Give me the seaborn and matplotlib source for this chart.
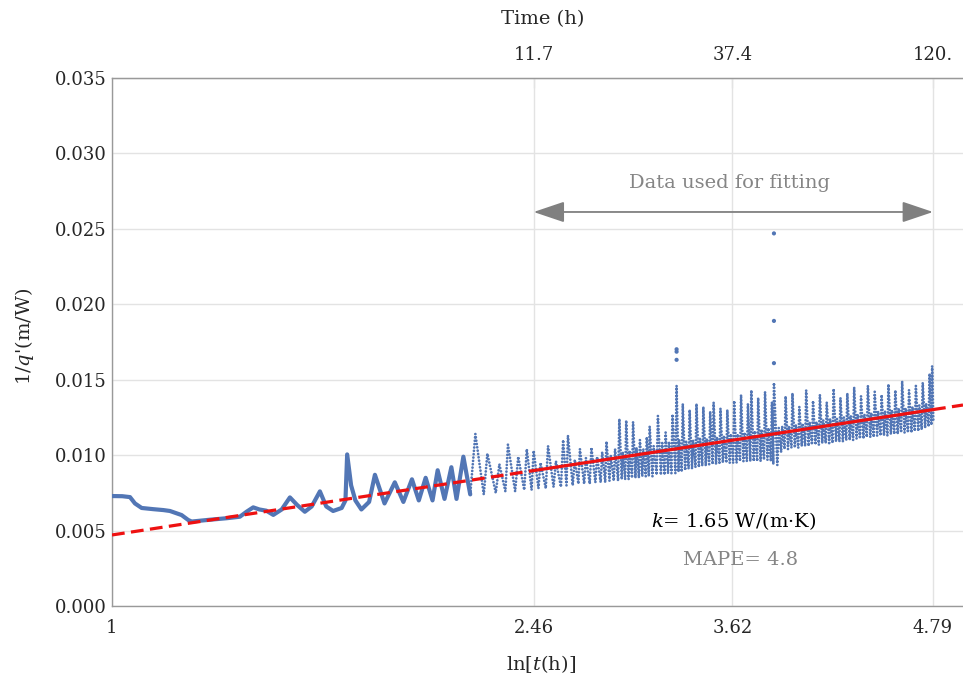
import numpy as np
import pandas as pd
import matplotlib
matplotlib.use("Agg")
import matplotlib.pyplot as plt
from matplotlib.ticker import MultipleLocator
import seaborn as sns

# ------------------------------------------------------------------ data
# early part of the record (ln t from 0 to ~2.1), dense points -> traced curve
early_x = [0.000, 0.060, 0.105, 0.134, 0.173, 0.241, 0.300, 0.338, 0.406, 0.445,
           0.465, 0.571, 0.669, 0.746, 0.785, 0.824, 0.860, 0.900, 0.941, 0.990,
           1.038, 1.080, 1.125, 1.165, 1.213, 1.250, 1.290, 1.340, 1.362, 1.372,
           1.395, 1.420, 1.455, 1.500, 1.534, 1.590, 1.650, 1.700, 1.750, 1.790,
           1.830, 1.870, 1.900, 1.940, 1.980, 2.010, 2.050, 2.090]
early_y = [0.00729, 0.00728, 0.00722, 0.00680, 0.00650, 0.00642, 0.00636, 0.00630, 0.00603, 0.00570,
           0.00560, 0.00572, 0.00582, 0.00592, 0.00625, 0.00654, 0.00640, 0.00632, 0.00604, 0.00640,
           0.00720, 0.00670, 0.00625, 0.00660, 0.00760, 0.00660, 0.00630, 0.00650, 0.00700, 0.01005,
           0.00800, 0.00700, 0.00640, 0.00690, 0.00870, 0.00680, 0.00820, 0.00690, 0.00840, 0.00700,
           0.00850, 0.00700, 0.00900, 0.00710, 0.00920, 0.00710, 0.00990, 0.00740]

# later part: one entry per daily-cycle tooth (position, peak, following trough)
tooth_x = [2.120, 2.190, 2.260, 2.310, 2.370, 2.420, 2.460, 2.500, 2.544, 2.590,
           2.632, 2.660, 2.700, 2.730, 2.765, 2.797, 2.830, 2.860, 2.885, 2.910,
           2.935, 2.960, 2.980, 3.000, 3.020, 3.040, 3.060, 3.080, 3.100, 3.120,
           3.137, 3.160, 3.185, 3.210, 3.230, 3.250, 3.270, 3.294, 3.310, 3.330,
           3.350, 3.370, 3.390, 3.410, 3.430, 3.450, 3.470, 3.490, 3.510, 3.530,
           3.550, 3.570, 3.590, 3.610, 3.630, 3.650, 3.670, 3.690, 3.710, 3.730,
           3.750, 3.770, 3.790, 3.810, 3.830, 3.850, 3.862, 3.890, 3.910, 3.930,
           3.950, 3.970, 3.990, 4.010, 4.030, 4.050, 4.070, 4.090, 4.110, 4.130,
           4.150, 4.170, 4.190, 4.210, 4.230, 4.250, 4.270, 4.290, 4.310, 4.330,
           4.350, 4.370, 4.390, 4.410, 4.430, 4.450, 4.470, 4.490, 4.510, 4.530,
           4.550, 4.570, 4.590, 4.610, 4.630, 4.650, 4.670, 4.690, 4.710, 4.730,
           4.750, 4.770, 4.785]
tooth_peak = [0.0114, 0.0101, 0.0094, 0.0107, 0.0099, 0.0104, 0.0103, 0.0095, 0.0106, 0.0096,
              0.0110, 0.0113, 0.0097, 0.0104, 0.0098, 0.0105, 0.0099, 0.0102, 0.0109, 0.0100,
              0.0104, 0.0124, 0.0102, 0.0123, 0.0103, 0.0122, 0.0105, 0.0110, 0.0104, 0.0112,
              0.0119, 0.0106, 0.0126, 0.0108, 0.0115, 0.0109, 0.0127, 0.0146, 0.0110, 0.0134,
              0.0109, 0.0130, 0.0110, 0.0134, 0.0111, 0.0132, 0.0111, 0.0129, 0.0135, 0.0112,
              0.0131, 0.0113, 0.0130, 0.0114, 0.0136, 0.0114, 0.0140, 0.0115, 0.0134, 0.0143,
              0.0116, 0.0138, 0.0117, 0.0142, 0.0118, 0.0135, 0.0148, 0.0118, 0.0119, 0.0139,
              0.0119, 0.0141, 0.0120, 0.0132, 0.0121, 0.0143, 0.0122, 0.0136, 0.0122, 0.0140,
              0.0123, 0.0135, 0.0124, 0.0144, 0.0124, 0.0138, 0.0125, 0.0141, 0.0126, 0.0145,
              0.0127, 0.0139, 0.0127, 0.0146, 0.0128, 0.0142, 0.0129, 0.0140, 0.0129, 0.0147,
              0.0130, 0.0143, 0.0131, 0.0149, 0.0131, 0.0143, 0.0132, 0.0146, 0.0133, 0.0148,
              0.0134, 0.0154, 0.0159]
tooth_trough = [0.0074, 0.0075, 0.0076, 0.0076, 0.0077, 0.0077, 0.0078, 0.0078, 0.0079, 0.0079,
                0.0080, 0.0080, 0.0081, 0.0081, 0.0081, 0.0082, 0.0082, 0.0082, 0.0083, 0.0083,
                0.0083, 0.0084, 0.0084, 0.0084, 0.0085, 0.0085, 0.0085, 0.0086, 0.0086, 0.0086,
                0.0086, 0.0087, 0.0087, 0.0087, 0.0088, 0.0088, 0.0088, 0.0089, 0.0089, 0.0090,
                0.0091, 0.0091, 0.0092, 0.0092, 0.0093, 0.0093, 0.0094, 0.0094, 0.0094, 0.0095,
                0.0095, 0.0095, 0.0095, 0.0095, 0.0095, 0.0096, 0.0096, 0.0096, 0.0096, 0.0096,
                0.0096, 0.0096, 0.0097, 0.0097, 0.0096, 0.0094, 0.00935, 0.0102, 0.0104, 0.0104,
                0.0105, 0.0105, 0.0105, 0.0106, 0.0106, 0.0106, 0.0107, 0.0107, 0.0107, 0.0108,
                0.0108, 0.0108, 0.0108, 0.0109, 0.0109, 0.0109, 0.0110, 0.0110, 0.0110, 0.0111,
                0.0111, 0.0111, 0.0112, 0.0112, 0.0112, 0.0113, 0.0113, 0.0113, 0.0113, 0.0114,
                0.0114, 0.0114, 0.0115, 0.0115, 0.0115, 0.0115, 0.0116, 0.0116, 0.0117, 0.0118,
                0.0119, 0.0120, 0.0122]

# isolated outliers
outlier_x = [3.294, 3.294, 3.294, 3.862, 3.862, 3.862]
outlier_y = [0.01702, 0.01686, 0.01632, 0.0247, 0.0189, 0.0161]

# linear fit of 1/q' vs ln t
fit_intercept = 0.00471
fit_slope = 0.001735
fit_range = [2.46, 4.79]
x_max = 4.965

x_ticks = [0.0, 2.46, 3.62, 4.79]
x_ticklabels = ["1", "2.46", "3.62", "4.79"]
top_ticks = [2.46, 3.62, 4.79]
top_ticklabels = ["11.7", "37.4", "120."]

# ------------------------------------------------------------------ style
sns.set_style("white")
plt.rcParams["font.family"] = ["DejaVu Serif"]
plt.rcParams["mathtext.fontset"] = "dejavuserif"

BLUE = "#5276b5"
RED = "#ee1111"
GRAY = "#999999"
TXTGRAY = "#858585"

fig = plt.figure(figsize=(9.63, 6.82), dpi=100)
ax = fig.add_axes([0.1163, 0.1114, 0.8837, 0.7742])

# ------------------------------------------------------------------ data marks
early_df = pd.DataFrame({"x": early_x, "y": early_y})
sns.lineplot(data=early_df, x="x", y="y", sort=False, estimator=None, ax=ax,
             color=BLUE, lw=3.0, solid_capstyle="round", solid_joinstyle="round", zorder=3)

bx, by = [early_x[-1]], [early_y[-1]]
for i in range(len(tooth_x)):
    nxt = tooth_x[i + 1] if i + 1 < len(tooth_x) else tooth_x[i] + 0.01
    bx += [tooth_x[i], tooth_x[i] + 0.7 * (nxt - tooth_x[i])]
    by += [tooth_peak[i], tooth_trough[i]]
late_df = pd.DataFrame({"x": bx, "y": by})
sns.lineplot(data=late_df, x="x", y="y", sort=False, estimator=None, ax=ax,
             color=BLUE, lw=2.0, linestyle=(0, (0.01, 1.2)),
             dash_capstyle="round", zorder=3)

sns.scatterplot(x=outlier_x, y=outlier_y, ax=ax, color=BLUE, s=9,
                edgecolor="none", zorder=3)

# fit line: dashed extrapolation, solid over the fitted range
def fit(xs):
    return [fit_intercept + fit_slope * v for v in xs]

for xs, ls in [([0.0, fit_range[0]], (0, (4, 2))),
               (fit_range, "-"),
               ([fit_range[1], x_max], (0, (4, 2)))]:
    sns.lineplot(x=xs, y=fit(xs), ax=ax, color=RED, lw=2.3, linestyle=ls, zorder=4)

# ------------------------------------------------------------------ axes
ax.set_xlim(0, x_max)
ax.set_ylim(0, 0.035)
ax.set_xticks(x_ticks)
ax.set_xticklabels(x_ticklabels)
ax.yaxis.set_major_locator(MultipleLocator(0.005))
ax.yaxis.set_minor_locator(MultipleLocator(0.001))
ax.set_yticklabels([f"{v:.3f}" for v in ax.get_yticks()])
ax.set_xlabel("")
ax.set_ylabel("")

ax.tick_params(axis="y", which="major", direction="in", length=7, width=0.8,
               color=GRAY, labelsize=13, pad=4)
ax.tick_params(axis="y", which="minor", direction="in", length=4, width=0.7, color=GRAY)
ax.tick_params(axis="x", which="major", direction="in", length=7, width=0.8,
               color=GRAY, labelsize=13, pad=9)

ax.grid(True, which="major", color="#e3e3e3", lw=1.0)
ax.set_axisbelow(True)

for side in ["left", "bottom", "top"]:
    ax.spines[side].set_visible(True)
    ax.spines[side].set_color(GRAY)
    ax.spines[side].set_linewidth(1.0)
ax.spines["right"].set_visible(False)

top = ax.secondary_xaxis("top")
top.set_xticks(top_ticks)
top.set_xticklabels(top_ticklabels)
top.tick_params(direction="in", length=7, width=0.8, color=GRAY, labelsize=13, pad=10)
top.spines["top"].set_color(GRAY)

# ------------------------------------------------------------------ labels / annotations
fig.text(543 / 963, 1 - 19 / 682, "Time (h)", ha="center", va="center", fontsize=14)
fig.text(541 / 963, 1 - 664 / 682, r"ln[$t$(h)]", ha="center", va="center", fontsize=14)
fig.text(25 / 963, 1 - 336 / 682, r"1/$q$'(m/W)", ha="center", va="center",
         rotation=90, fontsize=14)

ax.annotate("", xy=(fit_range[1], 0.02612), xytext=(fit_range[0], 0.02612),
            arrowprops=dict(arrowstyle="<|-|>,head_length=0.8,head_width=0.27",
                            color="#808080", lw=1.3, shrinkA=0, shrinkB=0,
                            mutation_scale=24))
ax.text(3.6, 0.02805, "Data used for fitting", ha="center", va="center",
        fontsize=14, color=TXTGRAY)
ax.text(3.625, 0.00563, r"$k$= 1.65 W/(m·K)", ha="center", va="center",
        fontsize=14, color="black")
ax.text(3.67, 0.00305, "MAPE= 4.8", ha="center", va="center",
        fontsize=14, color=TXTGRAY)

fig.savefig("out.png", dpi=100)
